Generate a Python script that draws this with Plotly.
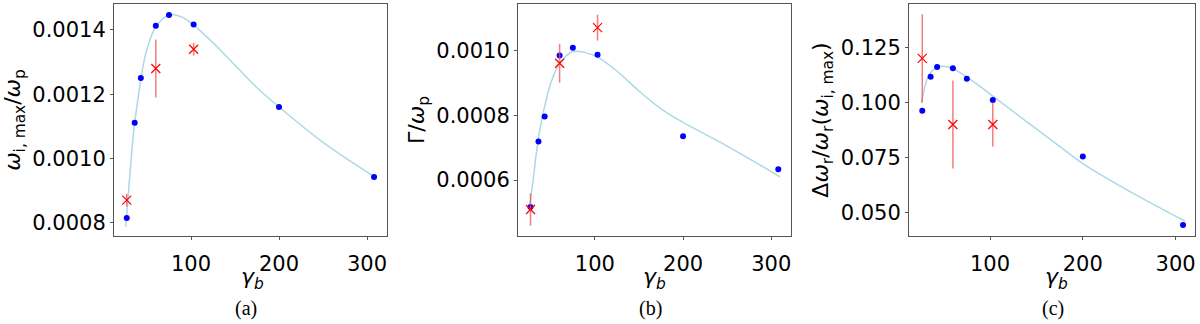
import plotly.graph_objects as go

# Beam Lorentz factors of the simulation runs and of the measurements
gamma_sim = [27, 36, 43, 60, 75, 103, 200, 308]
gamma_exp = [27, 60, 103]

# (a) maximum growth rate
growth_sim = [0.000814, 0.001111, 0.00125, 0.001413, 0.001447, 0.001417, 0.00116, 0.000942]
growth_exp = [0.00087, 0.00128, 0.00134]
growth_err = [0.00002, 0.00009, 0.00002]

# (b) damping rate
rate_sim = [0.000517, 0.000719, 0.000796, 0.000985, 0.001009, 0.000987, 0.000735, 0.000633]
rate_exp = [0.000509, 0.000961, 0.001071]
rate_err = [0.00005, 0.00006, 0.00004]

# (c) relative bandwidth
width_sim = [0.0962, 0.1117, 0.1161, 0.1155, 0.1108, 0.1011, 0.0755, 0.0444]
width_exp = [0.120, 0.090, 0.090]
width_err = [0.02, 0.02, 0.01]

# Fitted curves
fit_gamma = [26, 30, 33, 36, 40, 45, 50, 60, 75, 90, 103, 125, 150, 175, 200, 250, 310]
fit_growth = [0.000787, 0.00093, 0.00103, 0.00111, 0.00119, 0.00128, 0.00134, 0.00141, 0.001447,
              0.00144, 0.001415, 0.00136, 0.00129, 0.00122, 0.00116, 0.00105, 0.00094]
fit_rate = [0.00052, 0.00060, 0.00067, 0.00073, 0.00079, 0.00085, 0.00090, 0.00096, 0.000997,
            0.000993, 0.00098, 0.000937, 0.000875, 0.00082, 0.000778, 0.000705, 0.00061]
fit_width = [0.0997, 0.1075, 0.1115, 0.1135, 0.1152, 0.1162, 0.1164, 0.1155, 0.1115,
             0.1071, 0.1029, 0.0959, 0.0880, 0.0801, 0.0723, 0.0598, 0.0462]

panels = [
    (fit_growth, growth_sim, growth_exp, growth_err),
    (fit_rate, rate_sim, rate_exp, rate_err),
    (fit_width, width_sim, width_exp, width_err),
]

fig = go.Figure()

for i, (fit, sim, exp, err) in enumerate(panels):
    xa = "x" if i == 0 else "x%d" % (i + 1)
    ya = "y" if i == 0 else "y%d" % (i + 1)
    fig.add_trace(go.Scatter(x=fit_gamma, y=fit, mode="lines", line=dict(color="lightblue", width=1.5, shape="spline"),
                             xaxis=xa, yaxis=ya))
    fig.add_trace(go.Scatter(x=gamma_sim, y=sim, mode="markers", marker=dict(color="blue", size=6),
                             xaxis=xa, yaxis=ya))
    fig.add_trace(go.Scatter(x=gamma_exp, y=exp, mode="markers",
                             marker=dict(symbol="x-thin", size=9, line=dict(color="red", width=1.2)),
                             error_y=dict(type="data", array=err, color="rgba(240,80,80,0.75)", thickness=1.5, width=0),
                             xaxis=xa, yaxis=ya))

# Common axis look
axis = dict(showline=True, mirror=True, linecolor="#555555", linewidth=1, ticks="outside", ticklen=3,
            tickcolor="#555555", showgrid=False, zeroline=False, automargin=False,
            tickfont=dict(family="DejaVu Sans", size=21, color="black"))
xaxis_look = dict(axis, tickvals=[100, 200, 300], ticklabelstandoff=6)
title_font = dict(family="DejaVu Sans", size=22, color="black")

y_dom = [88 / 324, 320 / 324]
fig.update_layout(
    width=1200, height=324, margin=dict(l=0, r=0, t=0, b=0),
    paper_bgcolor="white", plot_bgcolor="white", showlegend=False,
    xaxis=dict(xaxis_look, domain=[114 / 1200, 387 / 1200], range=[12.5, 322.7], anchor="y"),
    yaxis=dict(axis, domain=y_dom, range=[0.000758, 0.001481], tickvals=[0.0008, 0.0010, 0.0012, 0.0014],
               tickformat=".4f", anchor="x",
               title=dict(text="<i>ω</i><sub>i, max</sub>/<i>ω</i><sub>p</sub>", font=title_font, standoff=5)),
    xaxis2=dict(xaxis_look, domain=[518 / 1200, 791 / 1200], range=[12.8, 322.4], anchor="y2"),
    yaxis2=dict(axis, domain=y_dom, range=[0.000427, 0.001144], tickvals=[0.0006, 0.0008, 0.0010],
                tickformat=".4f", anchor="x2",
                title=dict(text="Γ/<i>ω</i><sub>p</sub>", font=title_font, standoff=5)),
    xaxis3=dict(xaxis_look, domain=[909 / 1200, 1195 / 1200], range=[12.7, 320.9], anchor="y3"),
    yaxis3=dict(axis, domain=y_dom, range=[0.0394, 0.1447], tickvals=[0.050, 0.075, 0.100, 0.125],
                tickformat=".3f", anchor="x3",
                title=dict(text="Δ<i>ω</i><sub>r</sub>/<i>ω</i><sub>r</sub>(<i>ω</i><sub>i, max</sub>)",
                           font=title_font, standoff=5)),
)

# x-axis titles and sub-figure captions
for label, xt, xc in [("(a)", 252, 246), ("(b)", 655, 650), ("(c)", 1056, 1053)]:
    fig.add_annotation(text="<i>γ<sub>b</sub></i>", x=xt / 1200, y=(324 - 278) / 324, xref="paper", yref="paper",
                       xanchor="center", yanchor="middle", showarrow=False, font=title_font)
    fig.add_annotation(text=label, x=xc / 1200, y=(324 - 308) / 324, xref="paper", yref="paper",
                       xanchor="center", yanchor="middle", showarrow=False,
                       font=dict(family="Liberation Serif", size=20, color="black"))

# Drop the page's default body margin so the figure fills the window
fig.write_html("out.html", config={"displayModeBar": False},
               post_script="document.body.style.margin = '0';")
